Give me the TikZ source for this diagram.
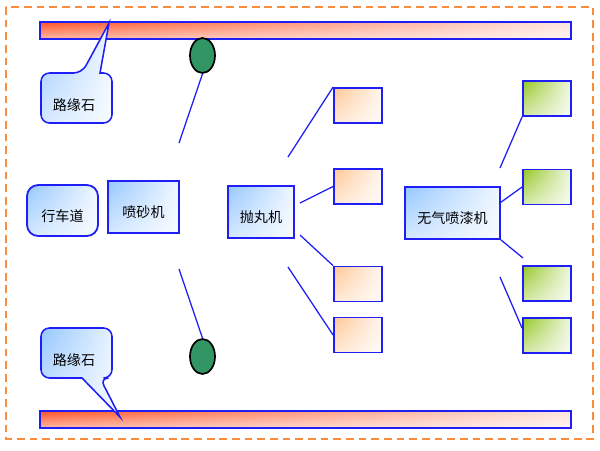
\documentclass[tikz,border=0pt]{standalone}
\usepackage{fontspec}
\newfontfamily\cjk{Noto Sans CJK SC}
\usepackage{tikz}
\usetikzlibrary{shapes.geometric,calc,fadings}
\definecolor{edgeblue}{RGB}{30,30,245}
\definecolor{skyblue}{RGB}{150,200,255}
\definecolor{peach}{RGB}{255,200,150}
\definecolor{leaf}{RGB}{150,200,40}
\definecolor{brick}{RGB}{255,85,40}
\definecolor{jade}{RGB}{50,150,100}
\definecolor{framecol}{RGB}{250,140,60}

\begin{document}
\begin{tikzpicture}[x=0.025cm, y=-0.025cm,
  glow/.style={top color=#1, bottom color=#1!40!white,
    path picture={\fill[white, path fading=west, fill opacity=0.85] (path picture bounding box.south west) rectangle (path picture bounding box.north east);}},
  machine/.style={draw=edgeblue, line width=1.3pt, glow=skyblue,
    minimum height=1.3cm, inner sep=0pt, font=\cjk\fontsize{10}{12}\selectfont, text height=16pt, text depth=1pt},
  nozzle/.style={draw=edgeblue, line width=1.3pt, glow=peach, minimum width=1.2cm, minimum height=0.875cm},
  gun/.style={nozzle, glow=leaf},
  tag/.style={draw=edgeblue, line width=1.1pt, glow=skyblue, rounded corners=6pt},
  tagtext/.style={font=\cjk\fontsize{10}{12}\selectfont, inner sep=0pt},
  curb/.style={draw=edgeblue, line width=1.4pt, glow=brick, minimum width=13.275cm, minimum height=0.425cm, inner sep=0pt},
  wheel/.style={ellipse, draw=black, line width=1.2pt, fill=jade, minimum width=0.625cm, minimum height=0.875cm, inner sep=0pt},
  arm/.style={edgeblue, line width=0.9pt}]
\useasboundingbox (0,0) rectangle (600,450);
% outer frame
\draw[framecol, line width=1.4pt, dash pattern=on 5.5pt off 3.5pt] (6,7) rectangle (593,439);

% curbs
\node[curb] (barN) at (305.5,30.5) {};
\node[curb] (barS) at (305.5,419.5) {};
\path[tag] (41,98) -- (41,73) -- (82,73) [sharp corners] -- (109,23) -- (100,73) [rounded corners=6pt] -- (112,73) -- (112,123) -- (41,123) -- cycle;
\node[tagtext] (curbN) at (74,105) {路缘石};
\path[tag] (41,353) -- (41,328) -- (112,328) -- (112,378) -- (100,378) [sharp corners] -- (120,417) -- (82,378) [rounded corners=6pt] -- (41,378) -- cycle;
\node[tagtext] (curbS) at (74,360) {路缘石};

% lane and sand blaster
\node[machine, rounded corners=8pt, minimum width=1.775cm, minimum height=1.275cm] (lane) at (62.5,210.5) {行车道};
\node[machine, minimum width=1.775cm] (sand) at (143.5,207) {喷砂机};
\node[wheel] (ovalN) at (202.5,55.5) {};
\node[wheel] (ovalS) at (202.5,356.5) {};
\coordinate (sandA) at (179,143);
\coordinate (sandB) at (179,269);
\draw[arm] (ovalN.south) -- (sandA);
\draw[arm] (sandB) -- (ovalS.north);

% shot blaster
\node[machine, minimum width=1.65cm] (shot) at (261,212) {抛丸机};
\node[nozzle] (nozA) at (358,105.5) {};
\node[nozzle] (nozB) at (358,186.5) {};
\node[nozzle] (nozC) at (358,284) {};
\node[nozzle] (nozD) at (358,335) {};
\coordinate (shotA) at (288,157);
\coordinate (shotB) at (300,203);
\coordinate (shotC) at (300,235);
\coordinate (shotD) at (288,267);
\draw[arm] (shotA) -- (nozA.north west);
\draw[arm] (shotB) -- (nozB.west);
\draw[arm] (shotC) -- (nozC.north west);
\draw[arm] (shotD) -- (nozD.west);

% airless sprayer
\node[machine, minimum width=2.375cm] (painter) at (452.5,213) {无气喷漆机};
\node[gun] (gunA) at (547,98.5) {};
\node[gun] (gunB) at (547,187) {};
\node[gun] (gunC) at (547,283.5) {};
\node[gun] (gunD) at (547,335.5) {};
\coordinate (paintA) at (500,168);
\coordinate (paintC) at (523,258);
\coordinate (paintD) at (500,277);
\draw[arm] (paintA) -- (gunA.south west);
\draw[arm] ($(painter.north east)!0.3!(painter.south east)$) -- (gunB.west);
\draw[arm] (painter.south east) -- (paintC);
\draw[arm] (paintD) -- ($(gunD.north west)!0.3!(gunD.south west)$);
\end{tikzpicture}
\end{document}
